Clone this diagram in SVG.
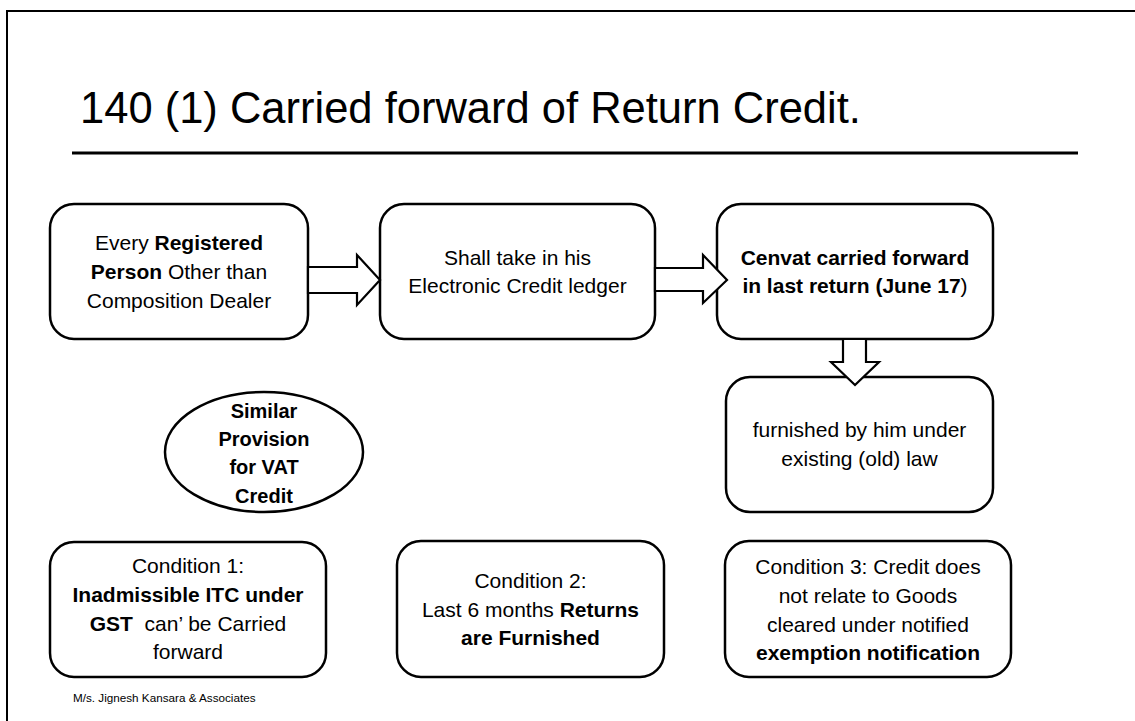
<svg xmlns="http://www.w3.org/2000/svg" width="1135" height="721" viewBox="0 0 1135 721">
<style>
  .box { fill: #ffffff; stroke: #000000; stroke-width: 2.5; }
  .arrow { fill: #ffffff; stroke: #000000; stroke-width: 2.2; stroke-linejoin: miter; }
  .t { font-family: "Liberation Sans", Arial, sans-serif; font-size: 21px; fill: #000000; text-anchor: middle; }
  .b { font-weight: bold; }
  .ell { font-family: "Liberation Sans", Arial, sans-serif; font-size: 20px; font-weight: bold; fill: #000000; text-anchor: middle; }
</style>
<rect x="0" y="0" width="1135" height="721" fill="#ffffff"/>
<rect x="7" y="11" width="1140" height="730" fill="none" stroke="#000000" stroke-width="2"/>
<g id="title">
  <text x="80" y="123" font-family="'Liberation Sans', Arial, sans-serif" font-size="43.5" fill="#000000">140 (1) Carried forward of Return Credit.</text>
  <line x1="72" y1="153" x2="1078" y2="153" stroke="#000000" stroke-width="3"/>
</g>
<g id="node-registered">
  <rect class="box" x="50" y="204" width="258" height="135" rx="24" ry="24"/>
  <text class="t" x="179" y="250">Every <tspan class="b">Registered</tspan></text>
  <text class="t" x="179" y="279"><tspan class="b">Person</tspan> Other than</text>
  <text class="t" x="179" y="308">Composition Dealer</text>
</g>
<g id="node-ledger">
  <rect class="box" x="380" y="204" width="275" height="135" rx="24" ry="24"/>
  <text class="t" x="517.5" y="265">Shall take in his</text>
  <text class="t" x="517.5" y="293">Electronic Credit ledger</text>
</g>
<g id="node-cenvat">
  <rect class="box" x="717" y="204" width="276" height="135" rx="24" ry="24"/>
  <text class="t b" x="855" y="265">Cenvat carried forward</text>
  <text class="t" x="855" y="293"><tspan class="b">in last return (June 17</tspan>)</text>
</g>
<g id="node-furnished">
  <rect class="box" x="726" y="377" width="267" height="135" rx="24" ry="24"/>
  <text class="t" x="859.5" y="437">furnished by him under</text>
  <text class="t" x="859.5" y="466">existing (old) law</text>
</g>
<g id="node-vat">
  <ellipse class="box" cx="264" cy="452" rx="99" ry="60"/>
  <text class="ell" x="264" y="418">Similar</text>
  <text class="ell" x="264" y="446">Provision</text>
  <text class="ell" x="264" y="474">for VAT</text>
  <text class="ell" x="264" y="503">Credit</text>
</g>
<g id="node-cond1">
  <rect class="box" x="50" y="542" width="276" height="135" rx="24" ry="24"/>
  <text class="t" x="188" y="573">Condition 1:</text>
  <text class="t b" x="188" y="602">Inadmissible ITC under</text>
  <text class="t" x="188" y="631" xml:space="preserve"><tspan class="b">GST</tspan>  can’ be Carried</text>
  <text class="t" x="188" y="659">forward</text>
</g>
<g id="node-cond2">
  <rect class="box" x="397" y="541" width="267" height="136" rx="24" ry="24"/>
  <text class="t" x="530.5" y="588">Condition 2:</text>
  <text class="t" x="530.5" y="617">Last 6 months <tspan class="b">Returns</tspan></text>
  <text class="t b" x="530.5" y="645">are Furnished</text>
</g>
<g id="node-cond3">
  <rect class="box" x="725" y="541" width="286" height="136" rx="24" ry="24"/>
  <text class="t" x="868" y="574">Condition 3: Credit does</text>
  <text class="t" x="868" y="603">not relate to Goods</text>
  <text class="t" x="868" y="632">cleared under notified</text>
  <text class="t b" x="868" y="660">exemption notification</text>
</g>
<g id="connectors">
  <polygon class="arrow" points="308,267 357,267 357,255 380,280 357,305 357,293 308,293"/>
  <polygon class="arrow" points="655,268 703,268 703,255 727,280 703,303 703,291 655,291"/>
  <polygon class="arrow" points="843,339 866,339 866,362 879,362 855,385 831,362 843,362"/>
</g>
<g id="footer">
  <text x="73" y="702" font-family="'Liberation Sans', Arial, sans-serif" font-size="11.7" fill="#000000">M/s. Jignesh Kansara &amp; Associates</text>
</g>
</svg>
